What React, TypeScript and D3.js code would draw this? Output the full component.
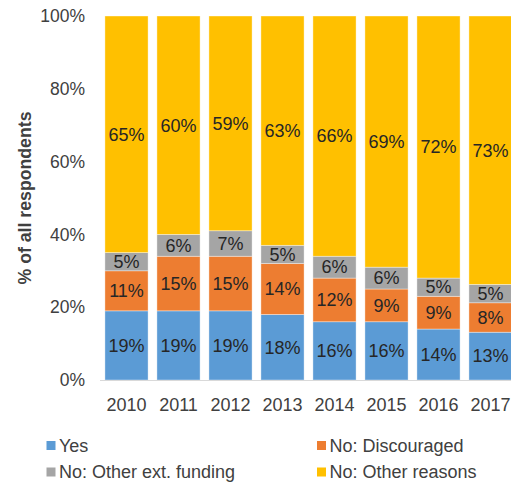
import React from "react";
import * as d3 from "d3";

const years = ["2010", "2011", "2012", "2013", "2014", "2015", "2016", "2017"];
const yes = [19, 19, 19, 18, 16, 16, 14, 13];
const discouraged = [11, 15, 15, 14, 12, 9, 9, 8];
const otherFunding = [5, 6, 7, 5, 6, 6, 5, 5];
const otherReasons = [65, 60, 59, 63, 66, 69, 72, 73];
const yTicks = [0, 20, 40, 60, 80, 100];

const seriesNames = ["Yes", "No: Discouraged", "No: Other ext. funding", "No: Other reasons"];
const colors = ["#5B9BD5", "#ED7D31", "#A5A5A5", "#FFC000"];

export default function App() {
  const width = 511;
  const height = 484;
  const marginTop = 16;
  const marginBottom = 104;
  const font = "'Liberation Sans', Arial, sans-serif";

  const rows = years.map((year, i) => ({
    year,
    s0: yes[i],
    s1: discouraged[i],
    s2: otherFunding[i],
    s3: otherReasons[i],
  }));
  const keys = ["s0", "s1", "s2", "s3"];
  const stacked = d3.stack<any>().keys(keys).offset(d3.stackOffsetExpand)(rows);
  const raw = [yes, discouraged, otherFunding, otherReasons];

  const x = d3.scaleBand().domain(years).range([100.5, 516.5]).paddingInner(0.17).paddingOuter(0.085);
  const y = d3.scaleLinear().domain([0, 1]).range([height - marginBottom, marginTop]);

  return (
    <svg width={width} height={height} style={{ position: "absolute", left: 0, top: 0 }} fontFamily={font}>
      {stacked.map((layer, li) => (
        <g key={li}>
          {layer.map((d, i) => {
            const x0 = x(years[i]) as number;
            const top = y(d[1]);
            const bot = y(d[0]);
            return (
              <g key={i}>
                <rect x={x0} y={top} width={x.bandwidth()} height={bot - top} fill={colors[li]} stroke="#ffffff" strokeOpacity={0.5} strokeWidth={0.75} />
                <text x={x0 + x.bandwidth() / 2} y={(top + bot) / 2} dy="0.35em" textAnchor="middle" fontSize={18} fill="#262626">
                  {raw[li][i]}%
                </text>
              </g>
            );
          })}
        </g>
      ))}
      <line x1={100} x2={width} y1={y(0) + 0.5} y2={y(0) + 0.5} stroke="#D9D9D9" strokeWidth={1} />
      {yTicks.map((t) => (
        <text key={t} x={85} y={y(t / 100)} dy="0.35em" textAnchor="end" fontSize={17.5} fill="#404040">
          {t}%
        </text>
      ))}
      {years.map((yr) => (
        <text key={yr} x={(x(yr) as number) + x.bandwidth() / 2} y={405} dy="0.35em" textAnchor="middle" fontSize={18} fill="#404040">
          {yr}
        </text>
      ))}
      <text transform={`translate(31,${(y(0) + y(1)) / 2}) rotate(-90)`} textAnchor="middle" fontSize={17.7} fontWeight="bold" fill="#404040">
        % of all respondents
      </text>
      {seriesNames.map((name, i) => {
        const lx = i % 2 === 0 ? 46.5 : 317;
        const ly = i < 2 ? 445.5 : 472;
        return (
          <g key={name}>
            <rect x={lx} y={ly - 4.5} width={9} height={9} fill={colors[i]} />
            <text x={lx + 12.5} y={ly} dy="0.35em" fontSize={18} fill="#404040">
              {name}
            </text>
          </g>
        );
      })}
    </svg>
  );
}
